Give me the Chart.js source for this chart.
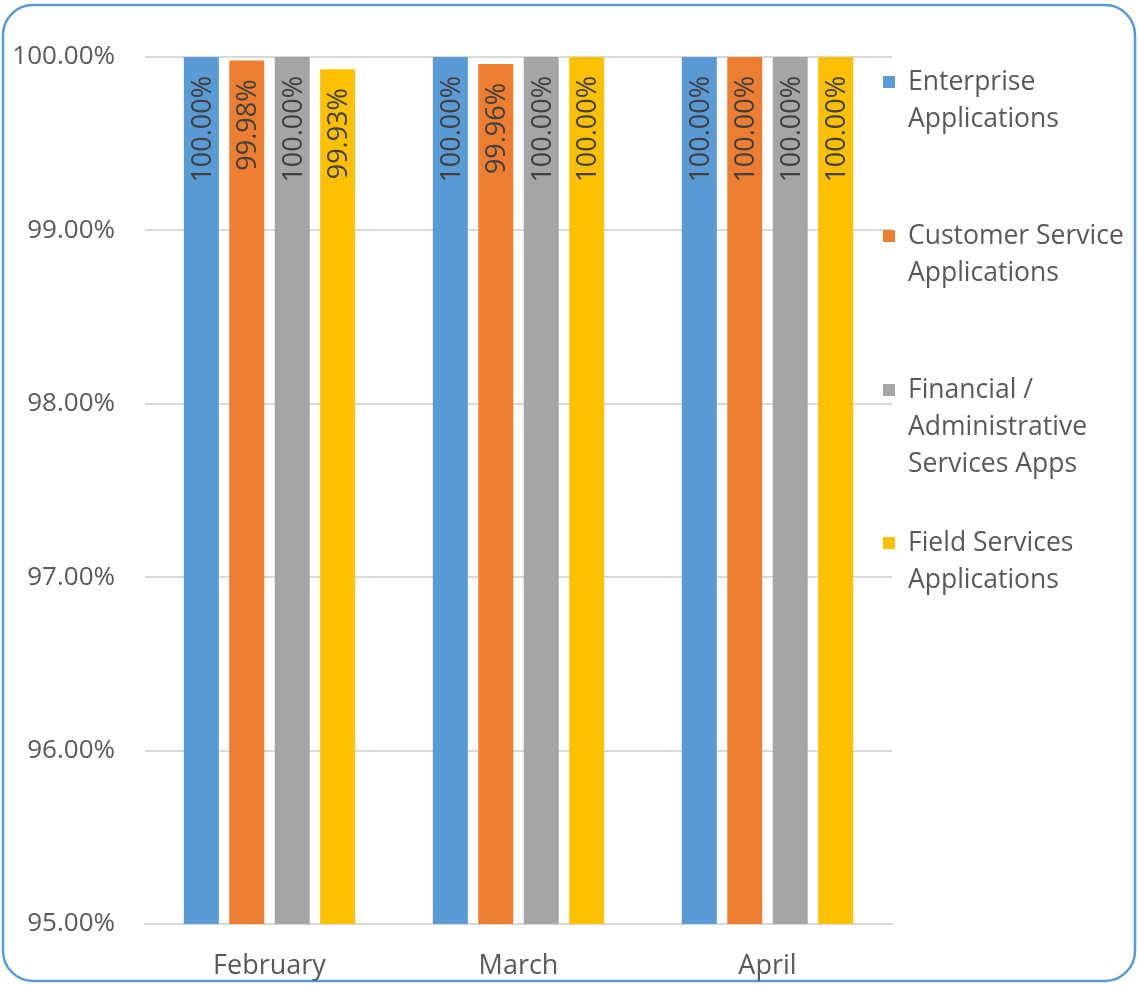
<!DOCTYPE html>
<html>
<head>
<meta charset="utf-8">
<script src="https://cdn.jsdelivr.net/npm/chart.js@4.4.1/dist/chart.umd.min.js"></script>
<style>
  html, body { margin: 0; padding: 0; background: #ffffff; }
  #wrap { width: 1138px; height: 985px; position: relative; }
</style>
</head>
<body>
<div id="wrap"><canvas id="c" width="1138" height="985"></canvas></div>
<script>
const categories = ["February", "March", "April"];
const seriesNames = [
  ["Enterprise", "Applications"],
  ["Customer Service", "Applications"],
  ["Financial /", "Administrative", "Services Apps"],
  ["Field Services", "Applications"]
];
const enterpriseValues = [100.00, 100.00, 100.00];
const customerServiceValues = [99.98, 99.96, 100.00];
const financialValues = [100.00, 100.00, 100.00];
const fieldServicesValues = [99.93, 100.00, 100.00];
const seriesColors = ["#5B9BD5", "#ED7D31", "#A5A5A5", "#FFC000"];
const yTicks = [95, 96, 97, 98, 99, 100];

const FONT = "'Open Sans', 'DejaVu Sans', sans-serif";
const allValues = [enterpriseValues, customerServiceValues, financialValues, fieldServicesValues];

const datasets = allValues.map((vals, i) => ({
  label: seriesNames[i].join(" "),
  data: vals,
  backgroundColor: seriesColors[i],
  borderWidth: 0,
  barPercentage: 0.77,
  categoryPercentage: 0.73
}));

const borderPlugin = {
  id: 'borderPlugin',
  beforeDraw(chart) {
    const ctx = chart.ctx;
    ctx.save();
    ctx.fillStyle = '#ffffff';
    ctx.fillRect(0, 0, chart.width, chart.height);
    ctx.strokeStyle = '#5B9BD5';
    ctx.lineWidth = 2.5;
    ctx.beginPath();
    ctx.roundRect(3, 5, chart.width - 6, chart.height - 9, 30);
    ctx.stroke();
    ctx.restore();
  }
};

const labelPlugin = {
  id: 'labelPlugin',
  afterDatasetsDraw(chart) {
    const ctx = chart.ctx;
    ctx.save();
    ctx.fillStyle = '#404040';
    ctx.font = "27px " + FONT;
    chart.data.datasets.forEach((ds, di) => {
      const meta = chart.getDatasetMeta(di);
      meta.data.forEach((bar, i) => {
        const v = ds.data[i];
        ctx.save();
        ctx.translate(bar.x, bar.y + 19);
        ctx.rotate(-Math.PI / 2);
        ctx.textAlign = 'right';
        ctx.textBaseline = 'middle';
        ctx.fillText(v.toFixed(2) + '%', 0, 2);
        ctx.restore();
      });
    });
    ctx.restore();
  }
};

const legendPlugin = {
  id: 'legendPlugin',
  afterDraw(chart) {
    const ctx = chart.ctx;
    ctx.save();
    ctx.font = "26.5px " + FONT;
    ctx.textBaseline = 'middle';
    ctx.textAlign = 'left';
    const starts = [82, 236, 390, 543];
    seriesNames.forEach((lines, i) => {
      const y0 = starts[i];
      ctx.fillStyle = seriesColors[i];
      ctx.fillRect(883, y0 - 6, 12, 12);
      ctx.fillStyle = '#595959';
      lines.forEach((ln, j) => {
        ctx.fillText(ln, 908, y0 + j * 37);
      });
    });
    ctx.restore();
  }
};

new Chart(document.getElementById('c'), {
  type: 'bar',
  data: { labels: categories, datasets: datasets },
  options: {
    responsive: false,
    animation: false,
    devicePixelRatio: 1,
    layout: { padding: { left: 0, right: 246, top: 57, bottom: 0 } },
    plugins: {
      legend: { display: false },
      tooltip: { enabled: false }
    },
    scales: {
      x: {
        grid: { display: false, drawTicks: false },
        border: { display: true, color: '#D9D9D9', width: 2 },
        ticks: { color: '#595959', font: { family: FONT, size: 27 }, padding: 26 },
        afterFit(scale) { scale.height = 61; }
      },
      y: {
        min: 95,
        max: 100,
        afterBuildTicks(scale) { scale.ticks = yTicks.map(v => ({ value: v })); },
        grid: { color: '#D9D9D9', lineWidth: 2, drawTicks: false },
        border: { display: false },
        ticks: {
          color: '#595959',
          font: { family: FONT, size: 26 },
          padding: 30,
          callback: v => Number(v).toFixed(2) + '%'
        },
        afterFit(scale) { scale.width = 145; }
      }
    }
  },
  plugins: [borderPlugin, labelPlugin, legendPlugin]
});
</script>
</body>
</html>
